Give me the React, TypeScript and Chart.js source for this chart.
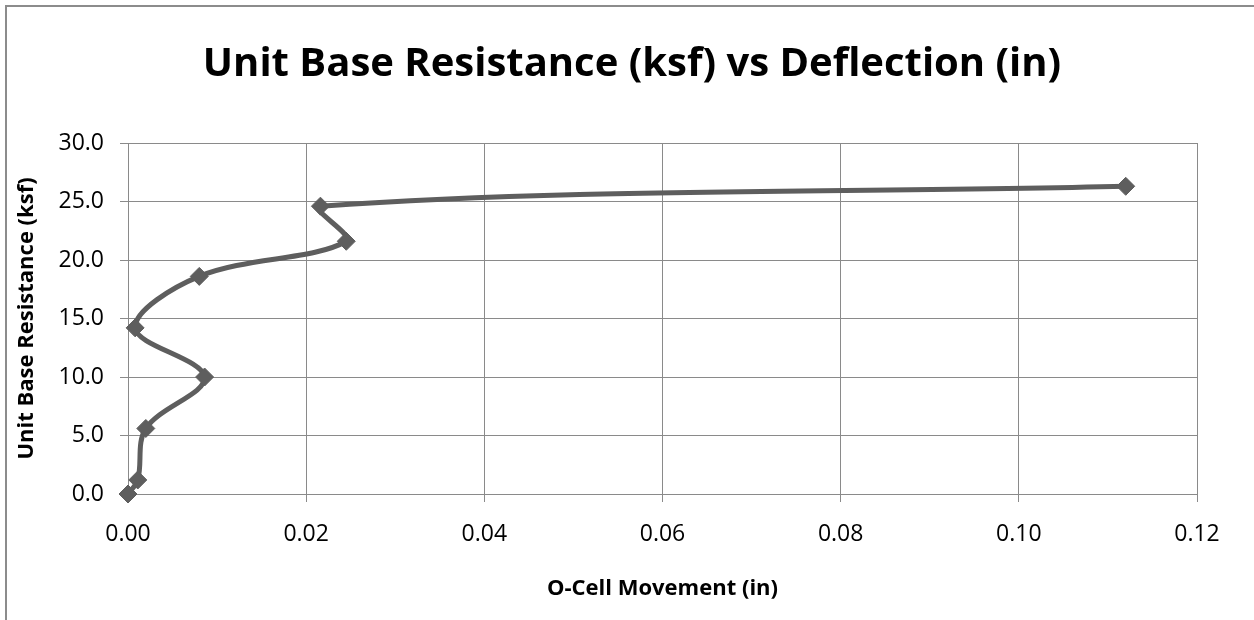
import React, { useEffect, useRef } from "react";
import { Chart, registerables } from "chart.js";

Chart.register(...registerables);

const movementIn = [0, 0.0011, 0.002, 0.0086, 0.0008, 0.008, 0.0245, 0.0216, 0.112];
const resistanceKsf = [0, 1.2, 5.6, 10.0, 14.2, 18.6, 21.6, 24.6, 26.3];
const chartTitle = "Unit Base Resistance (ksf) vs Deflection (in)";
const xTitle = "O-Cell Movement (in)";
const yTitle = "Unit Base Resistance (ksf)";

const FONT = "'Open Sans', 'Noto Sans', sans-serif";
const GRID = "#8a8a8a";
const LINE = "#5e5e5e";

export default function App() {
  const ref = useRef<HTMLCanvasElement | null>(null);

  useEffect(() => {
    if (!ref.current) return;
    const framePlugin = {
      id: "frameAndTitle",
      afterDraw(chart: any) {
        const ctx = chart.ctx;
        ctx.save();
        ctx.fillStyle = "#8c8c8c";
        ctx.fillRect(5, 5, chart.width - 5, 2);
        ctx.fillRect(5, 5, 2, chart.height - 5);
        ctx.fillStyle = "#000";
        ctx.font = `bold 40px ${FONT}`;
        ctx.textAlign = "center";
        ctx.textBaseline = "middle";
        ctx.fillText(chartTitle, 632, 65);
        ctx.restore();
      },
    };
    const chart = new Chart(ref.current, {
      type: "scatter",
      data: {
        datasets: [
          {
            data: movementIn.map((x, i) => ({ x, y: resistanceKsf[i] })),
            showLine: true,
            borderColor: LINE,
            backgroundColor: LINE,
            borderWidth: 5,
            tension: 0.35,
            pointStyle: "rectRot",
            pointRadius: 9,
            pointBorderWidth: 1,
            pointBackgroundColor: LINE,
            pointBorderColor: LINE,
            clip: false,
          } as any,
        ],
      },
      options: {
        responsive: false,
        animation: false,
        devicePixelRatio: 1,
        layout: { padding: { left: 0, right: 57, top: 143, bottom: 0 } },
        plugins: {
          legend: { display: false },
          title: { display: false },
          tooltip: { enabled: false },
        },
        scales: {
          x: {
            type: "linear",
            min: 0,
            max: 0.12,
            afterFit(scale: any) {
              scale.height = 126;
            },
            ticks: {
              stepSize: 0.02,
              padding: 19,
              color: "#000",
              font: { family: FONT, size: 23 },
              callback: (v: any) => Number(v).toFixed(2),
            },
            grid: { color: GRID, lineWidth: 1, tickLength: 8, drawTicks: true },
            border: { color: GRID, width: 1 },
            title: {
              display: true,
              text: xTitle,
              color: "#000",
              font: { family: FONT, size: 22, weight: "bold" },
              padding: { top: 0, bottom: 18 },
            },
          },
          y: {
            type: "linear",
            min: 0,
            max: 30,
            afterFit(scale: any) {
              scale.width = 128;
            },
            ticks: {
              stepSize: 5,
              padding: 16,
              color: "#000",
              font: { family: FONT, size: 23 },
              callback: (v: any) => Number(v).toFixed(1),
            },
            grid: { color: GRID, lineWidth: 1, tickLength: 8, drawTicks: true },
            border: { color: GRID, width: 1 },
            title: {
              display: true,
              text: yTitle,
              color: "#000",
              font: { family: FONT, size: 22, weight: "bold" },
              padding: { top: 14, bottom: 0 },
            },
          },
        },
      },
      plugins: [framePlugin],
    });
    return () => chart.destroy();
  }, []);

  return (
    <div style={{ position: "absolute", left: 0, top: 0, width: 1254, height: 620, background: "#fff" }}>
      <canvas ref={ref} width={1254} height={620} />
    </div>
  );
}
